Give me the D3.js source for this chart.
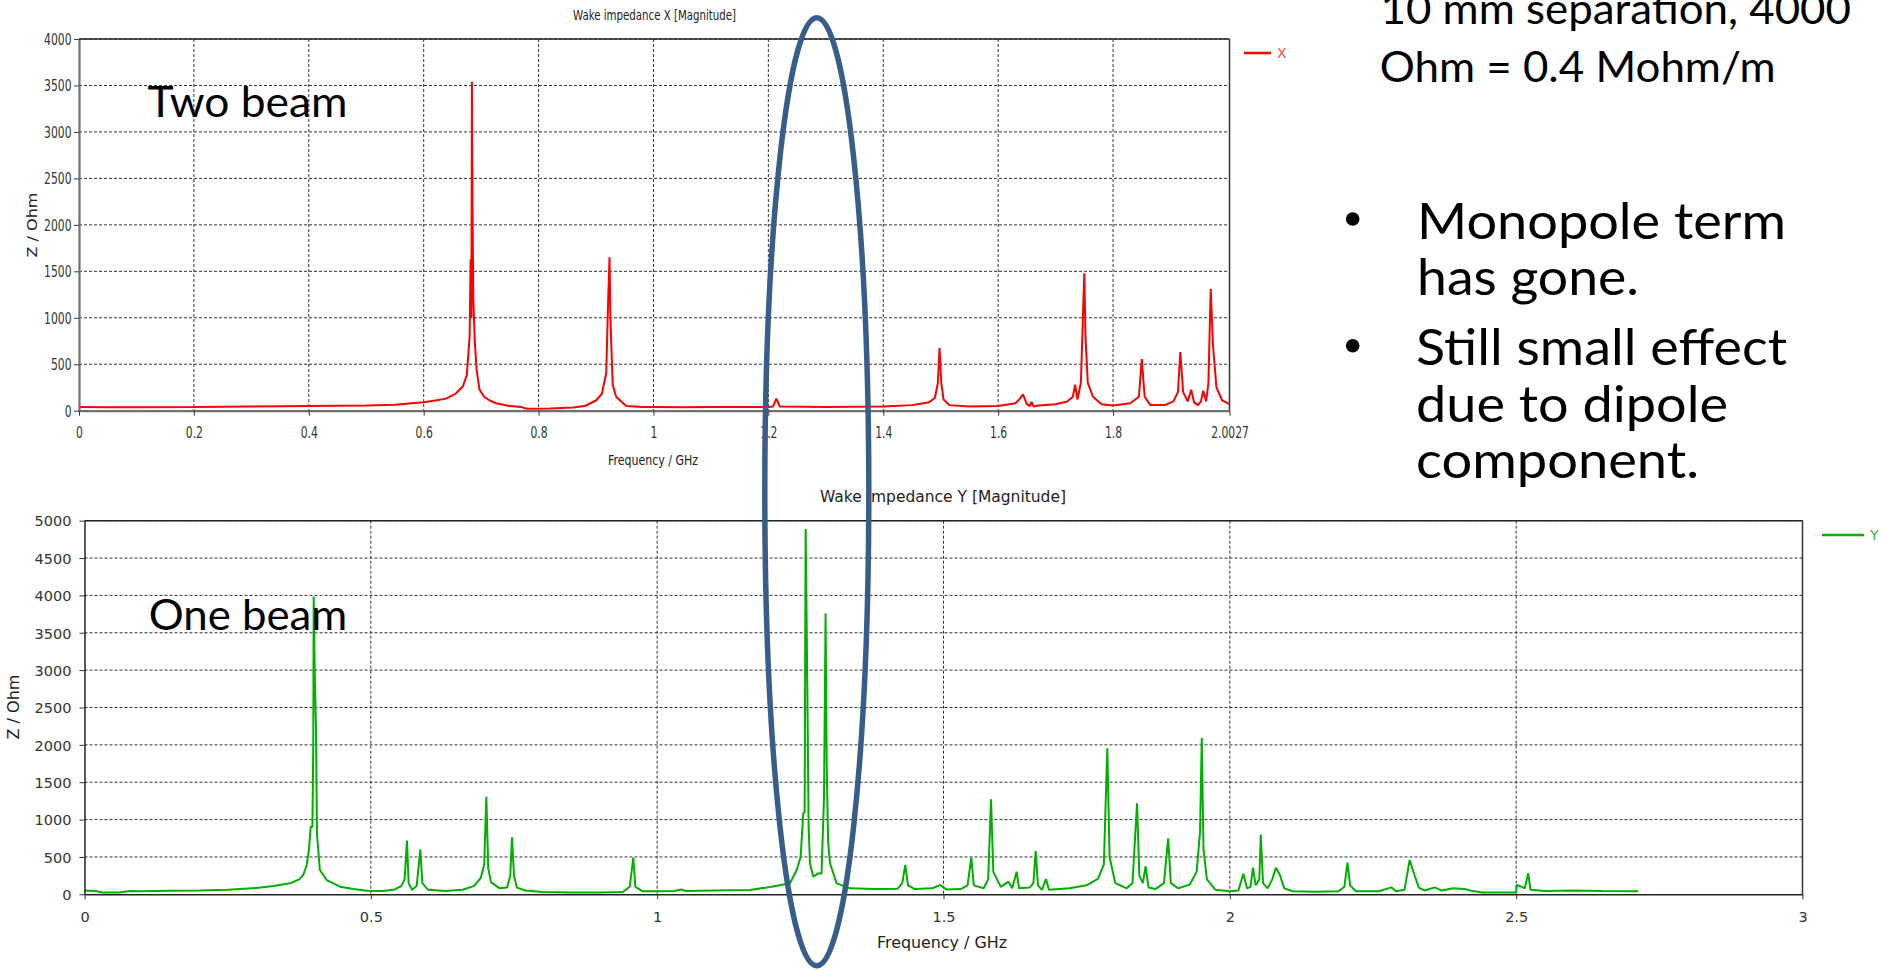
<!DOCTYPE html>
<html>
  <head>
    <title>Wake impedance X / Y</title>
    <style>
      body {
        margin: 0;
        padding: 0;
        overflow: hidden;
        background: #fff;
      }
      svg {
        display: block;
      }
    </style>
    <script src="https://cdnjs.cloudflare.com/ajax/libs/d3/7.8.5/d3.min.js"></script>
  </head>
  <body>
    <svg width="1886" height="970"></svg>
    <script>
      // Datos: impedancia X (dos haces), frecuencia en GHz y Z en Ohm
      const freqX = [0, 0.05, 0.1, 0.2, 0.3, 0.4, 0.5, 0.55, 0.6, 0.62, 0.639, 0.655, 0.668, 0.675, 0.68, 0.6817,
        0.683, 0.684, 0.685, 0.6864, 0.689, 0.692, 0.697, 0.705, 0.715, 0.726, 0.745, 0.77, 0.78, 0.82, 0.86,
        0.88, 0.9, 0.91, 0.9177, 0.9212, 0.9235, 0.925, 0.929, 0.935, 0.9525, 0.98, 1.0, 1.05, 1.1, 1.15, 1.2,
        1.208, 1.214, 1.22, 1.3, 1.4, 1.45, 1.48, 1.49, 1.495, 1.498, 1.501, 1.505, 1.515, 1.55, 1.6, 1.63,
        1.638, 1.643, 1.65, 1.655, 1.658, 1.662, 1.67, 1.7, 1.72, 1.73, 1.734, 1.738, 1.744, 1.748, 1.75,
        1.752, 1.756, 1.765, 1.78, 1.8, 1.83, 1.845, 1.85, 1.855, 1.865, 1.89, 1.905, 1.913, 1.917, 1.922,
        1.93, 1.936, 1.941, 1.948, 1.953, 1.957, 1.962, 1.966, 1.97, 1.974, 1.98, 1.99, 2.0027];
      const zX = [40, 38, 38, 40, 45, 50, 55, 65, 90, 110, 130, 180, 260, 380, 800, 1630,
        1000, 3540, 2200, 1190, 740, 450, 230, 150, 110, 80, 55, 40, 20, 25, 35,
        50, 110, 180, 400, 1200, 1650, 1000, 280, 150, 50, 40, 40, 38, 40, 40, 40,
        45, 130, 45, 40, 45, 60, 90, 140, 300, 675, 300, 120, 60, 45, 50, 80,
        130, 175, 70, 50, 95, 45, 55, 70, 100, 150, 280, 120, 300, 1100, 1480,
        800, 300, 150, 70, 55, 80, 150, 555, 150, 60, 60, 100, 200, 630, 200,
        100, 225, 90, 60, 100, 215, 100, 300, 1310, 700, 250, 110, 70];

      // Datos: impedancia Y (un haz)
      const freqY = [0, 0.02, 0.03, 0.06, 0.08, 0.1, 0.15, 0.2, 0.25, 0.3, 0.33, 0.359, 0.375, 0.382, 0.388,
        0.392, 0.395, 0.398, 0.3995, 0.4002, 0.402, 0.4042, 0.406, 0.411, 0.4229, 0.446, 0.47, 0.4927, 0.52,
        0.54, 0.553, 0.559, 0.5631, 0.566, 0.572, 0.58, 0.5864, 0.59, 0.6, 0.63, 0.66, 0.68, 0.692, 0.698,
        0.7017, 0.705, 0.71, 0.725, 0.738, 0.7435, 0.7465, 0.75, 0.755, 0.77, 0.8, 0.85, 0.9, 0.94, 0.952,
        0.9583, 0.962, 0.975, 1.0, 1.03, 1.042, 1.05, 1.1, 1.162, 1.2, 1.2319, 1.2436, 1.2505, 1.2551, 1.2575,
        1.2593, 1.2621, 1.2645, 1.2668, 1.2726, 1.2814, 1.287, 1.2913, 1.2941, 1.296, 1.2985, 1.3018, 1.3134,
        1.3366, 1.38, 1.42, 1.428, 1.4333, 1.438, 1.45, 1.48, 1.494, 1.505, 1.53, 1.542, 1.5485, 1.553, 1.57,
        1.578, 1.583, 1.587, 1.6, 1.6134, 1.62, 1.6277, 1.632, 1.65, 1.657, 1.661, 1.665, 1.672, 1.679, 1.684,
        1.72, 1.75, 1.77, 1.78, 1.786, 1.79, 1.8, 1.82, 1.83, 1.838, 1.842, 1.848, 1.853, 1.858, 1.87, 1.885,
        1.8923, 1.897, 1.91, 1.93, 1.942, 1.948, 1.951, 1.954, 1.96, 1.975, 2.0, 2.015, 2.0236, 2.03, 2.036,
        2.0405, 2.045, 2.0515, 2.054, 2.058, 2.066, 2.074, 2.0805, 2.0874, 2.095, 2.11, 2.15, 2.19, 2.2,
        2.2054, 2.21, 2.22, 2.26, 2.282, 2.29, 2.305, 2.314, 2.323, 2.33, 2.34, 2.358, 2.37, 2.39, 2.41, 2.42,
        2.44, 2.5, 2.5009, 2.51, 2.515, 2.521, 2.525, 2.55, 2.6, 2.65, 2.713];
      const zY = [50, 45, 25, 25, 45, 40, 48, 50, 60, 85, 110, 147, 200, 258, 392,
        600, 905, 900, 2000, 3985, 3000, 2243, 800, 325, 191, 102, 70, 48, 45,
        60, 110, 200, 718, 150, 60, 110, 600, 150, 60, 45, 60, 110, 220, 400,
        1305, 350, 160, 80, 90, 250, 763, 250, 90, 50, 30, 25, 25, 30, 100,
        490, 100, 40, 40, 45, 65, 45, 50, 57, 102, 147, 325, 500, 1084, 1100,
        4890, 2846, 900, 415, 236, 281, 280, 1285, 3760, 1753, 700, 415, 147,
        80, 70, 75, 150, 392, 120, 70, 80, 124, 65, 70, 120, 490, 120, 80,
        200, 1271, 300, 100, 169, 80, 302, 80, 90, 150, 580, 120, 60, 205, 60,
        80, 120, 210, 400, 1955, 500, 150, 80, 150, 1218, 250, 150, 375, 90, 70, 150,
        749, 150, 80, 130, 300, 838, 2096, 600, 200, 60, 40, 50, 275, 80, 100,
        356, 120, 200, 800, 150, 80, 200, 356, 258, 80, 40, 35, 40, 100,
        423, 120, 40, 40, 93, 40, 60, 459, 245, 90, 50, 93, 50, 80, 70, 50,
        25, 25, 125, 100, 80, 281, 60, 45, 50, 45, 40];

      // Ticks
      const xTicksTop = [0, 0.2, 0.4, 0.6, 0.8, 1, 1.2, 1.4, 1.6, 1.8, 2.0027];
      const xTickLabelsTop = ['0', '0.2', '0.4', '0.6', '0.8', '1', '1.2', '1.4', '1.6', '1.8', '2.0027'];
      const yTicksTop = [0, 500, 1000, 1500, 2000, 2500, 3000, 3500, 4000];
      const xTicksBot = [0, 0.5, 1, 1.5, 2, 2.5, 3];
      const xTickLabelsBot = ['0', '0.5', '1', '1.5', '2', '2.5', '3'];
      const yTicksBot = [0, 500, 1000, 1500, 2000, 2500, 3000, 3500, 4000, 4500, 5000];

      const svg = d3.select('svg');
      svg.append('rect').attr('width', 1886).attr('height', 970).attr('fill', '#fff');

      // Dibuja un panel completo (rejilla, curva, ejes, textos)
      function drawPanel(cfg) {
        const x = d3.scaleLinear().domain(cfg.xDomain).range([cfg.left, cfg.right]);
        const y = d3.scaleLinear().domain(cfg.yDomain).range([cfg.bottom, cfg.top]);
        const g = svg.append('g');

        // rejilla
        g.append('g').selectAll('line.v')
          .data(cfg.xTicks.slice(1))
          .enter().append('line')
          .attr('x1', d => x(d)).attr('x2', d => x(d))
          .attr('y1', cfg.top).attr('y2', cfg.bottom)
          .attr('stroke', '#333').attr('stroke-width', 1)
          .attr('stroke-dasharray', '3,2');
        g.append('g').selectAll('line.h')
          .data(cfg.yTicks.slice(1))
          .enter().append('line')
          .attr('x1', cfg.left).attr('x2', cfg.right)
          .attr('y1', d => y(d)).attr('y2', d => y(d))
          .attr('stroke', '#333').attr('stroke-width', 1)
          .attr('stroke-dasharray', '3,2');

        // curva
        const pts = cfg.freq.map((f, i) => [f, cfg.z[i]]);
        g.append('path')
          .attr('d', d3.line().x(d => x(d[0])).y(d => y(d[1]))(pts))
          .attr('fill', 'none')
          .attr('stroke', cfg.color)
          .attr('stroke-width', 2)
          .attr('stroke-linejoin', 'bevel');

        // marco
        g.append('line').attr('x1', cfg.left).attr('x2', cfg.right)
          .attr('y1', cfg.top).attr('y2', cfg.top).attr('stroke', '#222').attr('stroke-width', 1.5);
        g.append('line').attr('x1', cfg.right).attr('x2', cfg.right)
          .attr('y1', cfg.top).attr('y2', cfg.bottom).attr('stroke', '#333').attr('stroke-width', 1.5);

        // ejes
        const xAxis = g.append('g')
          .attr('transform', `translate(0,${cfg.bottom})`)
          .call(d3.axisBottom(x).tickValues(cfg.xTicks)
            .tickFormat((d, i) => cfg.xLabels[i]).tickSize(5).tickSizeOuter(0));
        const yAxis = g.append('g')
          .attr('transform', `translate(${cfg.left},0)`)
          .call(d3.axisLeft(y).tickValues(cfg.yTicks).tickFormat(d3.format('d'))
            .tickSize(5).tickSizeOuter(0));
        [xAxis, yAxis].forEach(a => {
          a.select('.domain').attr('stroke', cfg.axisColor).attr('stroke-width', cfg.axisWidth);
          a.selectAll('.tick line').attr('stroke', '#333');
          a.selectAll('text')
            .attr('fill', '#333')
            .style('font-family', 'DejaVu Sans, Verdana, sans-serif')
            .style('font-size', cfg.tickFont + 'px');
        });
        xAxis.selectAll('text').attr('y', cfg.xLabelDy).attr('dy', null)
          .attr('transform', `scale(${cfg.squeeze},1)`);
        yAxis.selectAll('text').attr('x', -cfg.yLabelDx / cfg.squeeze).attr('dy', '0.36em')
          .attr('transform', `scale(${cfg.squeeze},1)`);

        const label = (txt, px, py, size, len, rot) => {
          g.append('text')
            .attr('transform', `translate(${px},${py})` + (rot ? ' rotate(-90)' : ''))
            .attr('text-anchor', 'middle')
            .attr('textLength', len)
            .attr('lengthAdjust', 'spacingAndGlyphs')
            .style('font-family', 'DejaVu Sans, Verdana, sans-serif')
            .style('font-size', size + 'px')
            .attr('fill', '#222')
            .text(txt);
        };
        label(cfg.title, cfg.titleX, cfg.titleY, cfg.titleSize, cfg.titleLen, false);
        label('Frequency / GHz', cfg.xTitleX, cfg.xTitleY, cfg.titleSize, cfg.xTitleLen, false);
        label('Z / Ohm', cfg.yTitleX, cfg.yTitleY, cfg.titleSize, 65, true);

        // leyenda
        g.append('line')
          .attr('x1', cfg.legendX).attr('x2', cfg.legendX + cfg.legendLen)
          .attr('y1', cfg.legendY).attr('y2', cfg.legendY)
          .attr('stroke', cfg.color).attr('stroke-width', 2.5);
        g.append('text')
          .attr('x', cfg.legendX + cfg.legendLen + 6).attr('y', cfg.legendY + 5)
          .style('font-family', 'DejaVu Sans, Verdana, sans-serif')
          .style('font-size', '14px')
          .attr('fill', cfg.legendTextColor)
          .text(cfg.name);
      }

      drawPanel({
        freq: freqX, z: zX, name: 'X', color: '#ff0000', legendTextColor: '#ff4d4d',
        xDomain: [0, 2.0027], yDomain: [0, 4000],
        left: 79, right: 1229.5, top: 39, bottom: 410.7,
        xTicks: xTicksTop, xLabels: xTickLabelsTop, yTicks: yTicksTop,
        tickFont: 15, squeeze: 0.72, xLabelDy: 27, yLabelDx: 7.5,
        axisColor: '#707070', axisWidth: 2.2,
        title: 'Wake impedance X [Magnitude]', titleX: 654.5, titleY: 20, titleSize: 14, titleLen: 163,
        xTitleX: 653, xTitleY: 465, xTitleLen: 90,
        yTitleX: 37, yTitleY: 225,
        legendX: 1244, legendLen: 27, legendY: 53
      });

      drawPanel({
        freq: freqY, z: zY, name: 'Y', color: '#00b000', legendTextColor: '#33c033',
        xDomain: [0, 3], yDomain: [0, 5000],
        left: 84.5, right: 1802.5, top: 520.7, bottom: 894.3,
        xTicks: xTicksBot, xLabels: xTickLabelsBot, yTicks: yTicksBot,
        tickFont: 14.5, squeeze: 1, xLabelDy: 28, yLabelDx: 13,
        axisColor: '#222', axisWidth: 1.5,
        title: 'Wake impedance Y [Magnitude]', titleX: 943, titleY: 502, titleSize: 15, titleLen: 246,
        xTitleX: 942, xTitleY: 948, xTitleLen: 130,
        yTitleX: 18.5, yTitleY: 707,
        legendX: 1822, legendLen: 42, legendY: 535
      });

      // Anotaciones de la diapositiva
      const note = svg.append('g')
        .style('font-family', 'Lato, "Open Sans", sans-serif')
        .attr('fill', '#000');
      const noteLine = (txt, px, py, size, len) => {
        note.append('text')
          .attr('x', px).attr('y', py)
          .attr('textLength', len)
          .attr('lengthAdjust', 'spacingAndGlyphs')
          .style('font-size', size + 'px')
          .text(txt);
      };
      noteLine('Two beam', 147.5, 117.3, 42, 200);
      noteLine('One beam', 148.7, 630, 42, 198.6);
      noteLine('10 mm separation, 4000', 1380.5, 24, 42, 470.5);
      noteLine('Ohm = 0.4 Mohm/m', 1379.7, 81.7, 42, 396);
      noteLine('Monopole term', 1417, 239.3, 50, 369);
      noteLine('has gone.', 1417, 295, 50, 222);
      noteLine('Still small effect', 1416, 365, 50, 371);
      noteLine('due to dipole', 1416, 421.7, 50, 312);
      noteLine('component.', 1416, 478.3, 50, 283);
      [219, 345.7].forEach(cy => {
        note.append('circle').attr('cx', 1352.7).attr('cy', cy).attr('r', 6.8);
      });

      // Elipse que marca la zona de 1.26-1.3 GHz
      svg.append('ellipse')
        .attr('cx', 816.8).attr('cy', 491.8)
        .attr('rx', 52).attr('ry', 474)
        .attr('fill', 'none')
        .attr('stroke', '#385d8a')
        .attr('stroke-width', 5.5);
    </script>
  </body>
</html>
